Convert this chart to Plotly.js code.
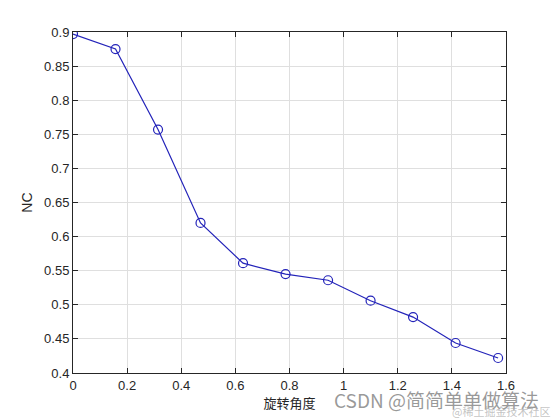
<!DOCTYPE html>
<html>
<head>
<meta charset="utf-8">
<script src="https://cdn.plot.ly/plotly-3.0.1.min.js"></script>
<style>html,body{margin:0;padding:0;background:#fff;}#chart{width:560px;height:420px;}</style>
</head>
<body>
<div id="chart"></div>
<script>
var angles = [0, 0.1571, 0.3142, 0.4712, 0.6283, 0.7854, 0.9425, 1.0996, 1.2566, 1.4137, 1.5708];
var ncValues = [0.897, 0.875, 0.757, 0.620, 0.561, 0.545, 0.536, 0.506, 0.482, 0.444, 0.422];
var xTicks = [0, 0.2, 0.4, 0.6, 0.8, 1, 1.2, 1.4, 1.6];
var yTicks = [0.4, 0.45, 0.5, 0.55, 0.6, 0.65, 0.7, 0.75, 0.8, 0.85, 0.9];
var xLabel = '旋转角度';
var yLabel = 'NC';
var watermark = 'CSDN @简简单单做算法';
var watermark2 = '@稀土掘金技术社区';

var lineColor = 'rgb(35,35,185)';
var trace = {
  x: angles, y: ncValues, type: 'scatter', mode: 'lines+markers',
  line: {color: lineColor, width: 1.2},
  marker: {symbol: 'circle-open', size: 9, color: lineColor, line: {width: 1.2, color: lineColor}},
  showlegend: false, hoverinfo: 'none'
};
var axisCommon = {
  showline: true, linecolor: '#262626', linewidth: 1, mirror: 'ticks',
  ticks: 'inside', ticklen: 5, tickcolor: '#262626', tickwidth: 1,
  showgrid: true, gridcolor: '#dfdfdf', gridwidth: 1, zeroline: false,
  tickfont: {family: 'Liberation Sans, Arial, sans-serif', size: 13, color: '#262626'}
};
var layout = {
  width: 560, height: 420,
  margin: {l: 73, r: 54, t: 32, b: 47},
  paper_bgcolor: '#ffffff', plot_bgcolor: '#ffffff',
  xaxis: Object.assign({}, axisCommon, {
    range: [0, 1.6], tickmode: 'array', tickvals: xTicks,
    ticktext: xTicks.map(function(v){return String(v);}),
    title: {text: xLabel, font: {family: 'Noto Sans CJK SC, sans-serif', size: 13, color: '#262626'}, standoff: 4}
  }),
  yaxis: Object.assign({}, axisCommon, {
    range: [0.4, 0.9], tickmode: 'array', tickvals: yTicks,
    ticktext: yTicks.map(function(v){return String(v);}),
    title: {text: yLabel, font: {family: 'Liberation Sans, Arial, sans-serif', size: 14, color: '#262626'}, standoff: 8}
  }),
  annotations: [
    {text: watermark, xref: 'paper', yref: 'paper', x: 0.598, y: -0.078, xanchor: 'left', yanchor: 'middle',
     showarrow: false, font: {family: 'Noto Sans CJK SC, sans-serif', size: 19, color: 'rgba(120,120,120,0.75)'}},
    {text: watermark2, xref: 'paper', yref: 'paper', x: 0.87, y: -0.11, xanchor: 'left', yanchor: 'middle',
     showarrow: false, font: {family: 'Noto Sans CJK SC, sans-serif', size: 11, color: 'rgba(170,170,170,0.7)'}}
  ]
};
Plotly.newPlot('chart', [trace], layout, {staticPlot: true, displayModeBar: false});
</script>
</body>
</html>
